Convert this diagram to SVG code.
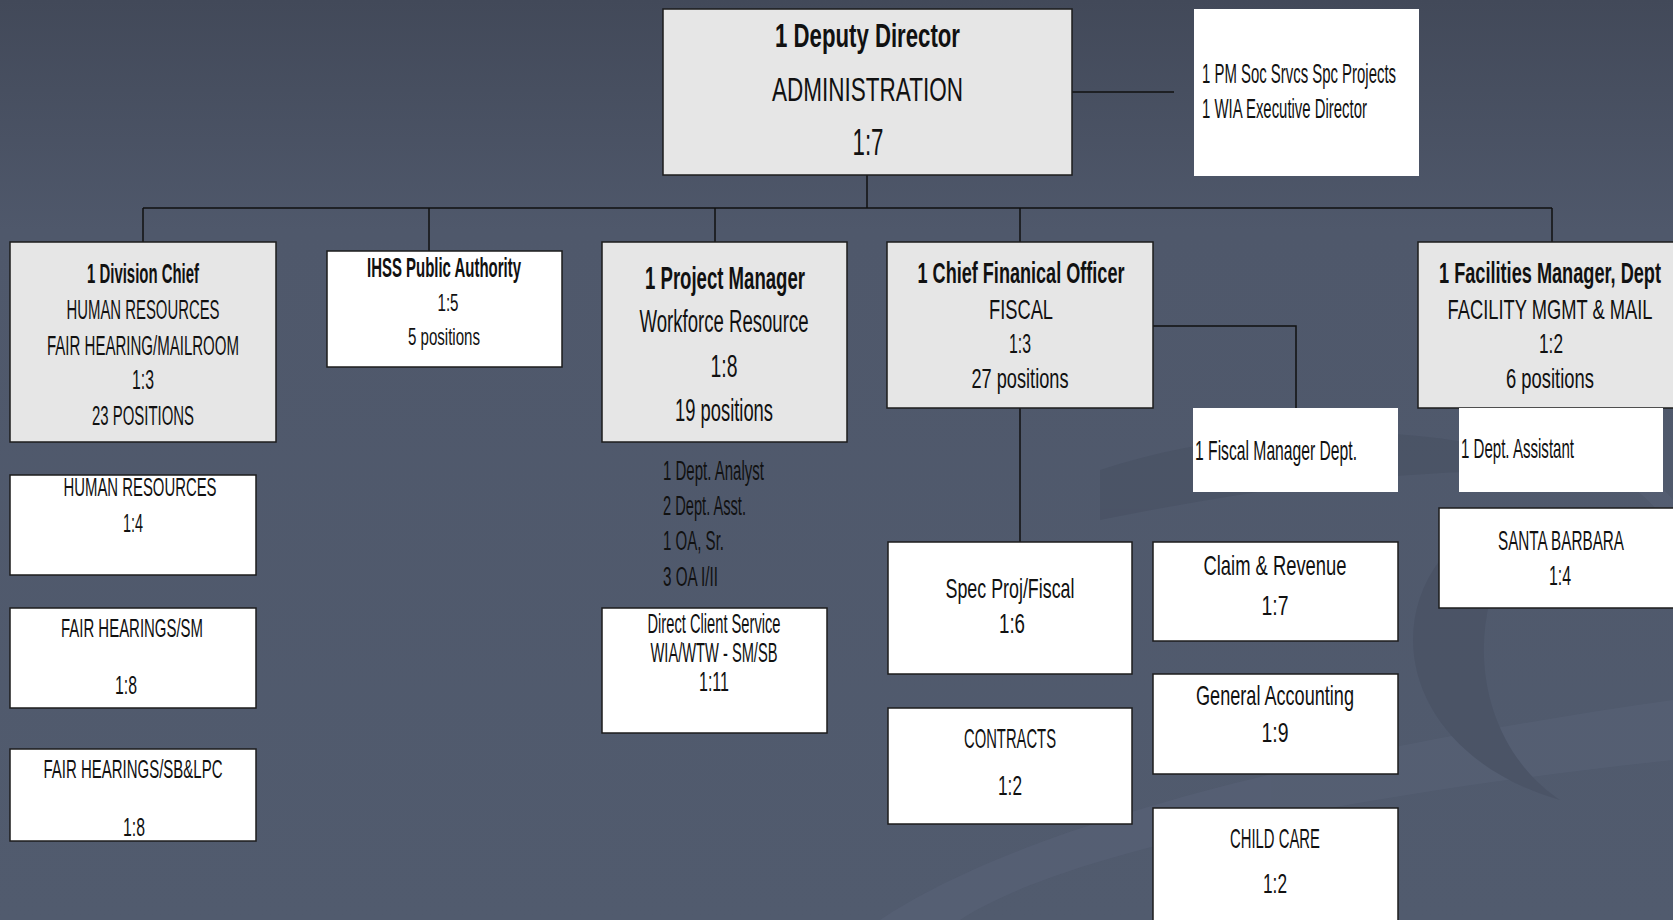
<svg xmlns="http://www.w3.org/2000/svg" width="1673" height="920" viewBox="0 0 1673 920">
<style>
text{font-family:"Liberation Sans Narrow","Liberation Sans",Arial,sans-serif;fill:#111}
.c{text-anchor:middle}
.b{font-weight:bold}
.g{fill:#e6e6e6;stroke:#1c1c1c;stroke-width:1.5}
.w{fill:#ffffff;stroke:#1c1c1c;stroke-width:1.5}
.n{fill:#ffffff;stroke:none}
.ln{stroke:#111;stroke-width:1.5;fill:none}
</style>
<defs>
<linearGradient id="bg" x1="0" y1="0" x2="0" y2="1">
<stop offset="0" stop-color="#424959"/>
<stop offset="0.25" stop-color="#4f586b"/>
<stop offset="1" stop-color="#515b6e"/>
</linearGradient>
</defs>
<rect x="0" y="0" width="1673" height="920" fill="url(#bg)"/>
<g id="swoosh" opacity="0.45">
<path d="M880 920 C1000 840 1250 760 1673 700 L1673 760 C1300 800 1050 860 960 920 Z" fill="#5a6479"/>
<path d="M1100 470 C1250 420 1450 420 1560 470 C1420 470 1300 480 1100 520 Z" fill="#454d5f"/>
<path d="M1440 560 C1380 640 1420 760 1560 800 C1500 760 1470 680 1490 600 Z" fill="#454d5f"/>
<path d="M1560 460 C1650 480 1673 520 1673 560 L1673 500 C1650 470 1610 460 1560 460 Z" fill="#5a6479"/>
</g>
<g id="connectors">
<line class="ln" x1="867" y1="175" x2="867" y2="208"/>
<line class="ln" x1="143" y1="208" x2="1552" y2="208"/>
<line class="ln" x1="143" y1="208" x2="143" y2="242"/>
<line class="ln" x1="429" y1="208" x2="429" y2="251"/>
<line class="ln" x1="715" y1="208" x2="715" y2="242"/>
<line class="ln" x1="1020" y1="208" x2="1020" y2="242"/>
<line class="ln" x1="1552" y1="208" x2="1552" y2="242"/>
<line class="ln" x1="1072" y1="92" x2="1174" y2="92"/>
<line class="ln" x1="1020" y1="408" x2="1020" y2="542"/>
<polyline class="ln" points="1153,326 1296,326 1296,408"/>
</g>
<g id="deputy">
<rect class="g" x="663" y="9" width="409" height="166"/>
<text class="c b" x="867.5" y="47" font-size="34" textLength="185" lengthAdjust="spacingAndGlyphs">1 Deputy Director</text>
<text class="c" x="867.5" y="101" font-size="34" textLength="191" lengthAdjust="spacingAndGlyphs">ADMINISTRATION</text>
<text class="c" x="868" y="155" font-size="36" textLength="31" lengthAdjust="spacingAndGlyphs">1:7</text>
</g>
<g id="pm-soc">
<rect class="n" x="1194" y="9" width="225" height="167"/>
<text x="1202" y="83" font-size="27" textLength="194" lengthAdjust="spacingAndGlyphs">1 PM Soc Srvcs Spc Projects</text>
<text x="1202" y="118" font-size="27" textLength="165" lengthAdjust="spacingAndGlyphs">1 WIA Executive Director</text>
</g>
<g id="division-chief">
<rect class="g" x="10" y="242" width="266" height="200"/>
<text class="c b" x="143" y="283" font-size="27" textLength="112" lengthAdjust="spacingAndGlyphs">1 Division Chief</text>
<text class="c" x="143" y="319" font-size="27" textLength="153" lengthAdjust="spacingAndGlyphs">HUMAN RESOURCES</text>
<text class="c" x="143" y="355" font-size="27" textLength="192" lengthAdjust="spacingAndGlyphs">FAIR HEARING/MAILROOM</text>
<text class="c" x="143" y="389" font-size="27" textLength="22" lengthAdjust="spacingAndGlyphs">1:3</text>
<text class="c" x="143" y="425" font-size="27" textLength="102" lengthAdjust="spacingAndGlyphs">23 POSITIONS</text>
</g>
<g id="ihss">
<rect class="w" x="327" y="251" width="235" height="116"/>
<text class="c b" x="444" y="277" font-size="28" textLength="154" lengthAdjust="spacingAndGlyphs">IHSS Public Authority</text>
<text class="c" x="448" y="311" font-size="24" textLength="21" lengthAdjust="spacingAndGlyphs">1:5</text>
<text class="c" x="444" y="345" font-size="24" textLength="72" lengthAdjust="spacingAndGlyphs">5 positions</text>
</g>
<g id="project-manager">
<rect class="g" x="602" y="242" width="245" height="200"/>
<text class="c b" x="725" y="289" font-size="31" textLength="160" lengthAdjust="spacingAndGlyphs">1 Project Manager</text>
<text class="c" x="724" y="332" font-size="31" textLength="169" lengthAdjust="spacingAndGlyphs">Workforce Resource</text>
<text class="c" x="724" y="377" font-size="31" textLength="27" lengthAdjust="spacingAndGlyphs">1:8</text>
<text class="c" x="724" y="421" font-size="31" textLength="98" lengthAdjust="spacingAndGlyphs">19 positions</text>
</g>
<g id="pm-staff">
<text x="663" y="480" font-size="27" textLength="101" lengthAdjust="spacingAndGlyphs">1 Dept. Analyst</text>
<text x="663" y="515" font-size="27" textLength="83" lengthAdjust="spacingAndGlyphs">2 Dept. Asst.</text>
<text x="663" y="550" font-size="27" textLength="61" lengthAdjust="spacingAndGlyphs">1 OA, Sr.</text>
<text x="663" y="586" font-size="27" textLength="55" lengthAdjust="spacingAndGlyphs">3 OA I/II</text>
</g>
<g id="direct-client">
<rect class="w" x="602" y="608" width="225" height="125"/>
<text class="c" x="714" y="633" font-size="27" textLength="133" lengthAdjust="spacingAndGlyphs">Direct Client Service</text>
<text class="c" x="714" y="662" font-size="27" textLength="127" lengthAdjust="spacingAndGlyphs">WIA/WTW - SM/SB</text>
<text class="c" x="714" y="691" font-size="27" textLength="30" lengthAdjust="spacingAndGlyphs">1:11</text>
</g>
<g id="cfo">
<rect class="g" x="887" y="242" width="266" height="166"/>
<text class="c b" x="1021" y="283" font-size="29" textLength="207" lengthAdjust="spacingAndGlyphs">1 Chief Finanical Officer</text>
<text class="c" x="1021" y="319" font-size="28" textLength="64" lengthAdjust="spacingAndGlyphs">FISCAL</text>
<text class="c" x="1020" y="353" font-size="28" textLength="22" lengthAdjust="spacingAndGlyphs">1:3</text>
<text class="c" x="1020" y="388" font-size="28" textLength="97" lengthAdjust="spacingAndGlyphs">27 positions</text>
</g>
<g id="fiscal-manager">
<rect class="n" x="1193" y="408" width="205" height="84"/>
<text x="1195" y="460" font-size="28" textLength="162" lengthAdjust="spacingAndGlyphs">1 Fiscal Manager Dept.</text>
</g>
<g id="facilities">
<rect class="g" x="1418" y="242" width="266" height="166"/>
<text class="c b" x="1550" y="283" font-size="29" textLength="222" lengthAdjust="spacingAndGlyphs">1 Facilities Manager, Dept</text>
<text class="c" x="1550" y="319" font-size="28" textLength="205" lengthAdjust="spacingAndGlyphs">FACILITY MGMT &amp; MAIL</text>
<text class="c" x="1551" y="353" font-size="28" textLength="24" lengthAdjust="spacingAndGlyphs">1:2</text>
<text class="c" x="1550" y="388" font-size="28" textLength="88" lengthAdjust="spacingAndGlyphs">6 positions</text>
</g>
<g id="dept-assistant">
<rect class="n" x="1459" y="408" width="204" height="84"/>
<text x="1461" y="458" font-size="28" textLength="113" lengthAdjust="spacingAndGlyphs">1 Dept. Assistant</text>
</g>
<g id="santa-barbara">
<rect class="w" x="1439" y="508" width="241" height="100"/>
<text class="c" x="1561" y="550" font-size="28" textLength="126" lengthAdjust="spacingAndGlyphs">SANTA BARBARA</text>
<text class="c" x="1560" y="585" font-size="28" textLength="22" lengthAdjust="spacingAndGlyphs">1:4</text>
</g>
<g id="hr">
<rect class="w" x="10" y="475" width="246" height="100"/>
<text class="c" x="140" y="496" font-size="26" textLength="153" lengthAdjust="spacingAndGlyphs">HUMAN RESOURCES</text>
<text class="c" x="133" y="532" font-size="26" textLength="20" lengthAdjust="spacingAndGlyphs">1:4</text>
</g>
<g id="fair-hearings-sm">
<rect class="w" x="10" y="608" width="246" height="100"/>
<text class="c" x="132" y="637" font-size="25" textLength="142" lengthAdjust="spacingAndGlyphs">FAIR HEARINGS/SM</text>
<text class="c" x="126" y="694" font-size="25" textLength="22" lengthAdjust="spacingAndGlyphs">1:8</text>
</g>
<g id="fair-hearings-sb">
<rect class="w" x="10" y="749" width="246" height="92"/>
<text class="c" x="133" y="778" font-size="25" textLength="179" lengthAdjust="spacingAndGlyphs">FAIR HEARINGS/SB&amp;LPC</text>
<text class="c" x="134" y="836" font-size="25" textLength="22" lengthAdjust="spacingAndGlyphs">1:8</text>
</g>
<g id="spec-proj">
<rect class="w" x="888" y="542" width="244" height="132"/>
<text class="c" x="1010" y="598" font-size="28" textLength="129" lengthAdjust="spacingAndGlyphs">Spec Proj/Fiscal</text>
<text class="c" x="1012" y="633" font-size="28" textLength="26" lengthAdjust="spacingAndGlyphs">1:6</text>
</g>
<g id="contracts">
<rect class="w" x="888" y="708" width="244" height="116"/>
<text class="c" x="1010" y="748" font-size="28" textLength="92" lengthAdjust="spacingAndGlyphs">CONTRACTS</text>
<text class="c" x="1010" y="795" font-size="28" textLength="24" lengthAdjust="spacingAndGlyphs">1:2</text>
</g>
<g id="claim-revenue">
<rect class="w" x="1153" y="542" width="245" height="99"/>
<text class="c" x="1275" y="575" font-size="28" textLength="143" lengthAdjust="spacingAndGlyphs">Claim &amp; Revenue</text>
<text class="c" x="1275" y="615" font-size="28" textLength="27" lengthAdjust="spacingAndGlyphs">1:7</text>
</g>
<g id="general-accounting">
<rect class="w" x="1153" y="674" width="245" height="100"/>
<text class="c" x="1275" y="705" font-size="28" textLength="158" lengthAdjust="spacingAndGlyphs">General Accounting</text>
<text class="c" x="1275" y="742" font-size="28" textLength="27" lengthAdjust="spacingAndGlyphs">1:9</text>
</g>
<g id="child-care">
<rect class="w" x="1153" y="808" width="245" height="122"/>
<text class="c" x="1275" y="848" font-size="28" textLength="90" lengthAdjust="spacingAndGlyphs">CHILD CARE</text>
<text class="c" x="1275" y="893" font-size="28" textLength="24" lengthAdjust="spacingAndGlyphs">1:2</text>
</g>
</svg>
